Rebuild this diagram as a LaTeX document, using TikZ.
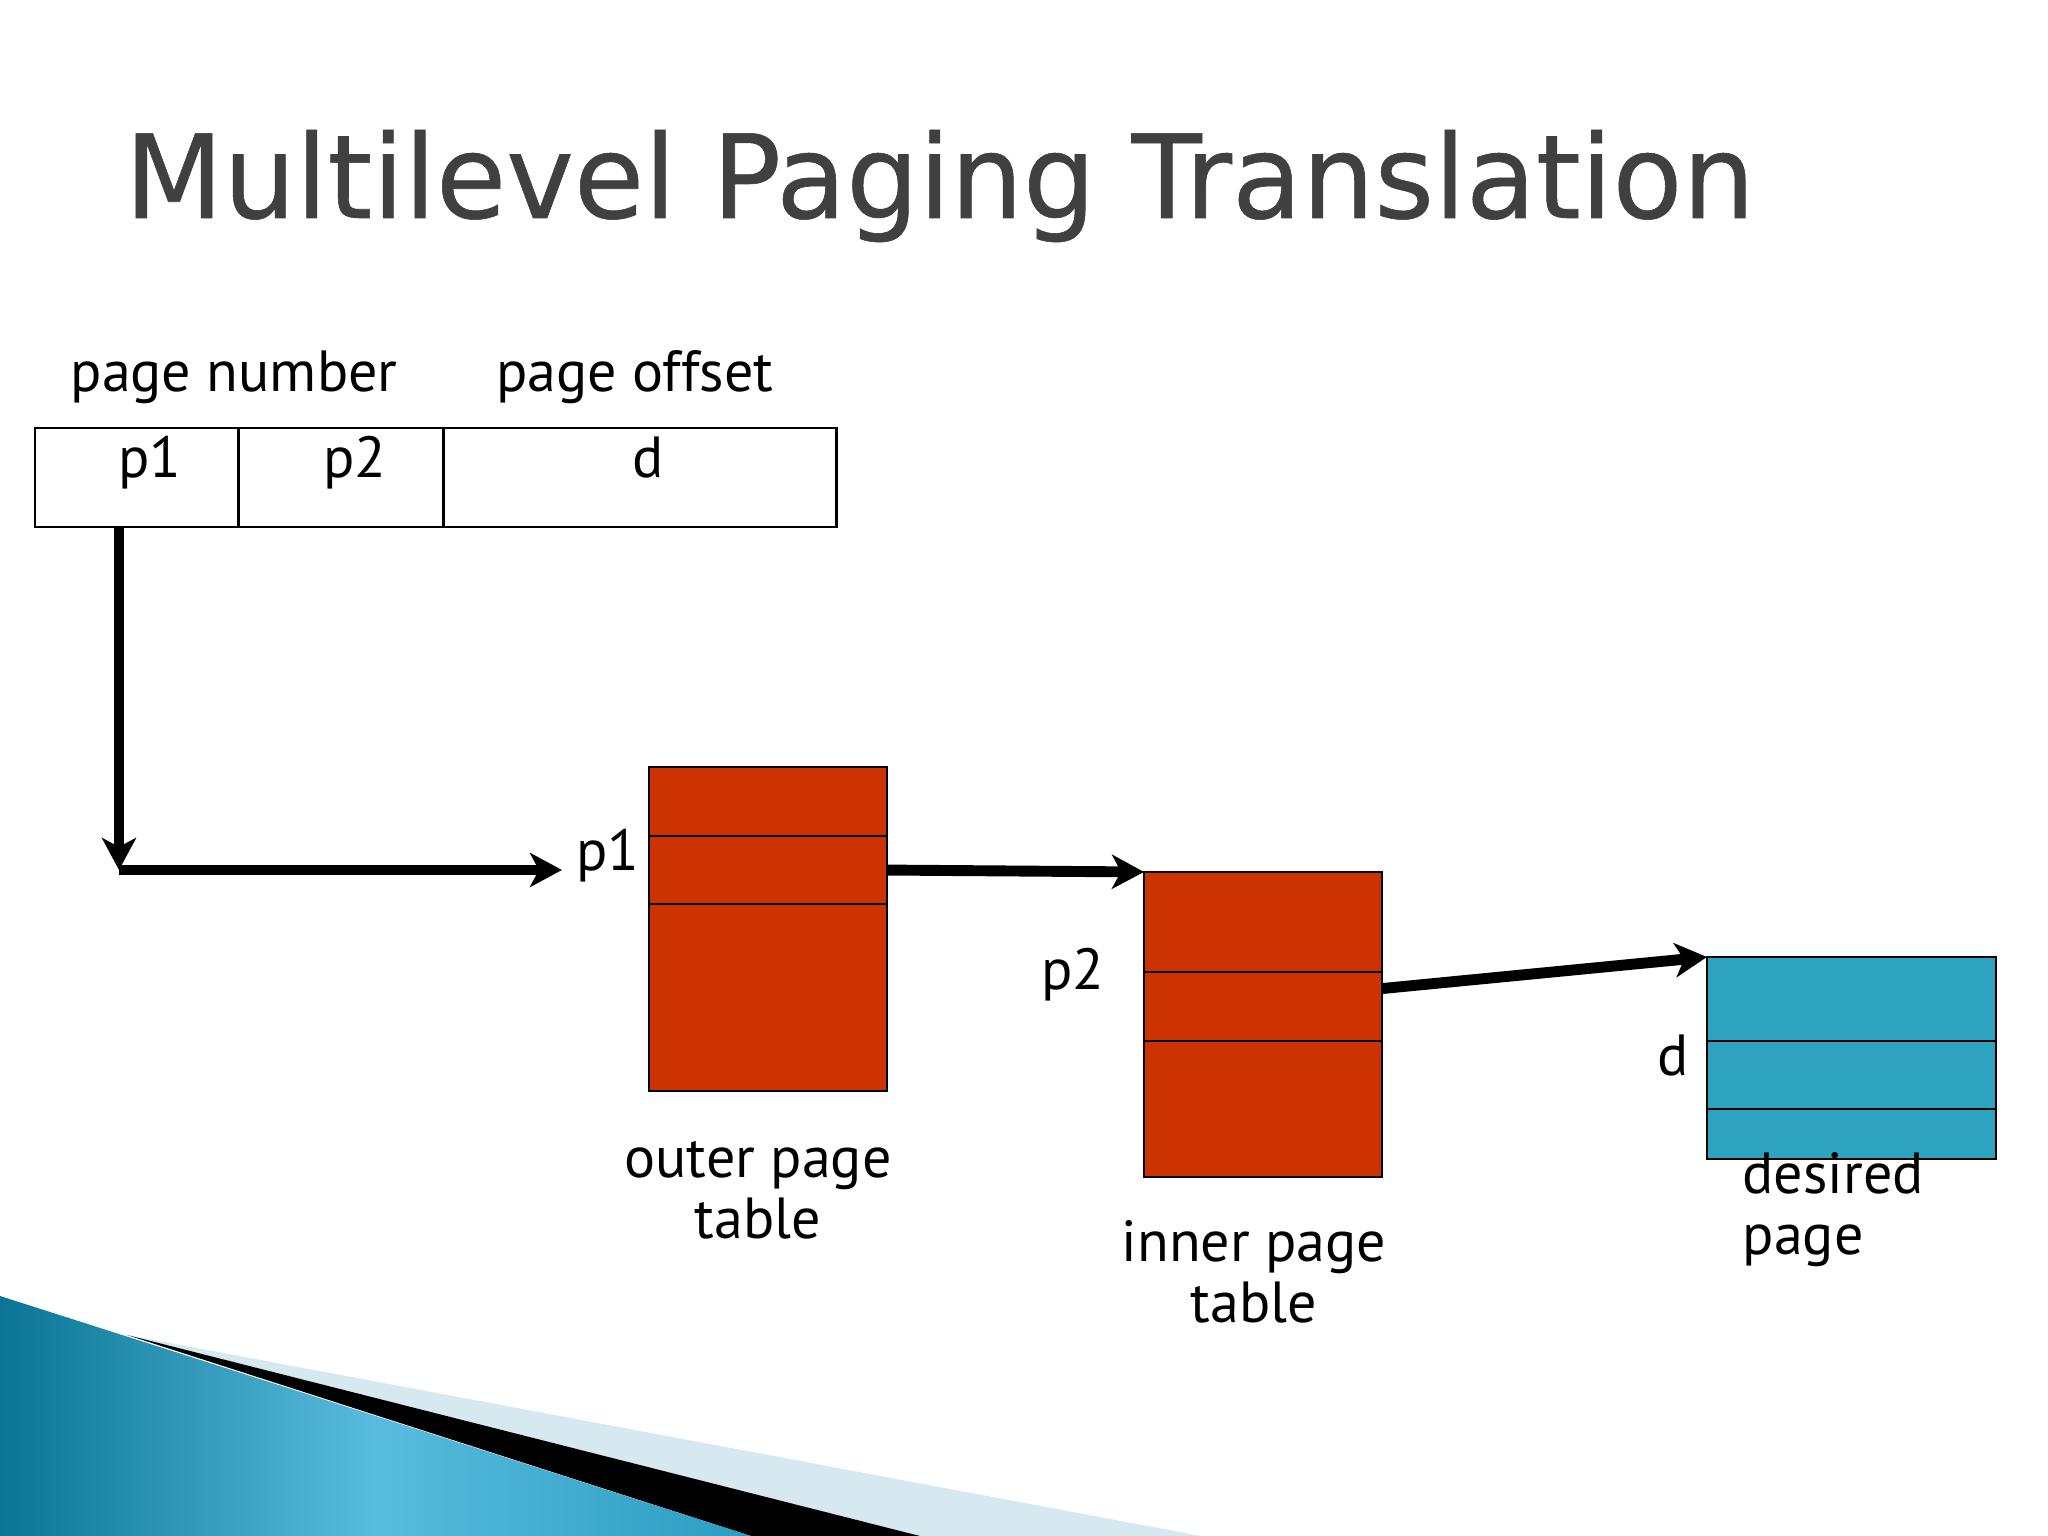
\documentclass[tikz,border=0pt]{standalone}
\usepackage{fontspec}
\setmainfont{PT Sans}
\newfontfamily\titlefont[FakeStretch=0.985, FakeBold=0.5]{DejaVu Sans}
\usetikzlibrary{positioning, arrows.meta}

\definecolor{tablered}{HTML}{CC3300}
\definecolor{pageblue}{HTML}{2DA3BF}
\definecolor{titlegray}{HTML}{404040}
\definecolor{swooshdark}{HTML}{0B7595}
\definecolor{swooshlight}{HTML}{58BCDD}
\definecolor{swooshmid}{HTML}{2B9DC2}
\definecolor{swooshpale}{HTML}{D6E9F1}

\tikzset{
  field/.style={draw, line width=0.8pt, minimum height=0.99cm, inner sep=0pt, outer sep=0pt},
  entry/.style={draw, line width=0.7pt, fill=#1, inner sep=0pt, outer sep=0pt},
  ptr/.style={-{Stealth[length=3.2mm, width=3.4mm, inset=0.9mm]}, line width=3.1pt},
  tag/.style={inner sep=0pt, font=\fontsize{16.5}{17.3}\selectfont},
}

\begin{document}
\begin{tikzpicture}[x=0.01cm, y=0.01cm]
  \useasboundingbox (0,0) rectangle (2048,1536);
  \fill[white] (0,0) rectangle (2048,1536);

  % slide decoration
  \fill[swooshpale] (127,201) -- (1201,0) -- (920,0) -- cycle;
  \fill[black] (127,201) -- (920,0) -- (751,0) -- cycle;
  \shade[left color=swooshdark, right color=swooshmid, middle color=swooshlight]
    (0,240) -- (751,0) -- (0,0) -- cycle;

  % title
  \node[anchor=base west, inner sep=0pt, text=titlegray,
    font=\titlefont\fontsize{33}{40}\selectfont] (title) at (124,1318) {Multilevel Paging Translation};

  % logical address
  \node[field, minimum width=2.03cm, anchor=south west] (p1cell) at (35,1009) {};
  \node[field, minimum width=2.05cm, right=0pt of p1cell] (p2cell) {};
  \node[field, minimum width=3.93cm, right=0pt of p2cell] (dcell) {};
  \node[tag, anchor=base] (p1txt) at ([xshift=0.13cm]p1cell.center) {p1};
  \node[tag, anchor=base] (p2txt) at ([xshift=0.14cm]p2cell.center) {p2};
  \node[tag, anchor=base] (dtxt) at ([xshift=0.08cm]dcell.center) {d};
  \node[tag, anchor=base] (pagenum) at ([xshift=-0.04cm, yshift=0.36cm]p1cell.north east) {page number};
  \node[tag, anchor=base] (pageoff) at ([xshift=-0.05cm, yshift=0.36cm]dcell.north) {page offset};

  % outer page table
  \node[entry=tablered, minimum width=2.38cm, minimum height=0.69cm, anchor=north west] (o1) at (649,769) {};
  \node[entry=tablered, minimum width=2.38cm, minimum height=0.68cm, below=0pt of o1] (o2) {};
  \node[entry=tablered, minimum width=2.38cm, minimum height=1.87cm, below=0pt of o2] (o3) {};

  % inner page table
  \node[entry=tablered, minimum width=2.38cm, minimum height=1.00cm, anchor=north west] (i1) at (1144,664) {};
  \node[entry=tablered, minimum width=2.38cm, minimum height=0.69cm, below=0pt of i1] (i2) {};
  \node[entry=tablered, minimum width=2.38cm, minimum height=1.36cm, below=0pt of i2] (i3) {};

  % desired page
  \node[entry=pageblue, minimum width=2.89cm, minimum height=0.84cm, anchor=north west] (d1) at (1707,579) {};
  \node[entry=pageblue, minimum width=2.89cm, minimum height=0.68cm, below=0pt of d1] (d2) {};
  \node[entry=pageblue, minimum width=2.89cm, minimum height=0.50cm, below=0pt of d2] (d3) {};

  % labels
  \node[tag, anchor=base east] (p1tag) at ([xshift=-0.09cm]o2.west) {p1};
  \node[tag, anchor=base east] (p2tag) at ([xshift=-0.39cm, yshift=-0.17cm]i2.north west) {p2};
  \node[tag, anchor=base east] (dtag) at ([xshift=-0.18cm]d2.west) {d};
  \node[tag, align=center, anchor=base] (outercap) at ([xshift=-0.10cm, yshift=-1.47cm]o3.south) {outer page\\table};
  \node[tag, align=center, anchor=base] (innercap) at ([xshift=-0.09cm, yshift=-1.45cm]i3.south) {inner page\\table};
  \node[tag, align=left, anchor=base west] (desiredcap) at ([xshift=0.35cm, yshift=-0.95cm]d3.south west) {desired\\page};

  % pointers
  \coordinate (turn) at (119,666);
  \coordinate (p1in) at (562,666);
  \draw[ptr] (p1cell.south -| turn) -- (turn);
  \draw[ptr] (turn) -- (p1in);
  \draw[ptr] (o2.east) -- (i1.north west);
  \draw[ptr] ([yshift=0.18cm]i2.east) -- (d1.north west);
\end{tikzpicture}
\end{document}
